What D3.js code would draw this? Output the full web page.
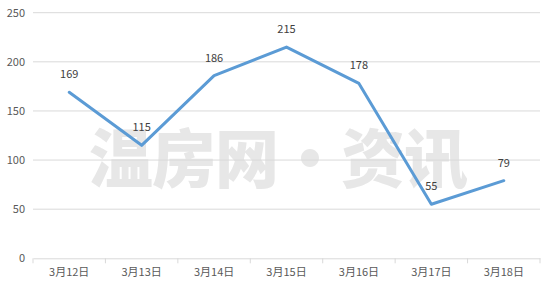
<!DOCTYPE html>
<html><head><meta charset="utf-8">
<script src="https://cdn.jsdelivr.net/npm/d3@7"></script>
<style>body{margin:0;background:#fff}svg{display:block}</style>
</head><body>
<svg id="c" width="550" height="289"></svg>
<script>
const categories = ["3月12日","3月13日","3月14日","3月15日","3月16日","3月17日","3月18日"];
const values = [169,115,186,215,178,55,79];
const yTicks = [0,50,100,150,200,250];
const watermark = "温房网·资讯";

const svg = d3.select("#c");
const m = {l:33, r:10, t:12.7, b:30.7};
const W = 550, H = 289;
const x = d3.scaleBand().domain(categories).range([m.l, W - m.r]);
const y = d3.scaleLinear().domain([0,250]).range([H - m.b, m.t]);
const font = "'Noto Sans CJK SC', 'Noto Sans', sans-serif";

// watermark
svg.append("text").attr("x", 278).attr("y", 182).attr("text-anchor","middle")
  .attr("font-family", font).attr("font-weight", "900").attr("font-size", 64)
  .attr("fill", "#e7e7e7").attr("letter-spacing", -1).text(watermark);

// gridlines
svg.append("g").selectAll("line").data(yTicks.filter(d=>d>0)).join("line")
  .attr("x1", m.l).attr("x2", W - m.r).attr("y1", d=>y(d)).attr("y2", d=>y(d))
  .attr("stroke", "#d9d9d9").attr("stroke-width", 1);

// y axis labels
const ya = svg.append("g").attr("transform", `translate(${m.l},0)`)
  .call(d3.axisLeft(y).tickValues(yTicks).tickSize(0).tickPadding(8));
ya.select(".domain").remove();
ya.selectAll("text").attr("font-family", font).attr("font-size", 11).attr("fill", "#595959");

// x axis
const xa = svg.append("g").attr("transform", `translate(0,${y(0)})`)
  .call(d3.axisBottom(x).tickSize(0).tickPadding(10));
xa.select(".domain").attr("stroke", "#d9d9d9");
xa.selectAll("text").attr("font-family", font).attr("font-size", 11).attr("fill", "#595959");
const bounds = categories.map(c => x(c)).concat([x(categories[categories.length-1]) + x.bandwidth()]);
svg.append("g").selectAll("line").data(bounds).join("line")
  .attr("x1", d=>d).attr("x2", d=>d).attr("y1", y(0)).attr("y2", y(0)+5)
  .attr("stroke", "#d9d9d9");

// line
const line = d3.line().x((d,i)=>x(categories[i]) + x.bandwidth()/2).y(d=>y(d));
svg.append("path").datum(values).attr("d", line).attr("fill","none")
  .attr("stroke", "#5b9bd5").attr("stroke-width", 3).attr("stroke-linejoin","round").attr("stroke-linecap","round");

// labels
svg.append("g").selectAll("text").data(values).join("text")
  .attr("x", (d,i)=>x(categories[i]) + x.bandwidth()/2)
  .attr("y", d=>y(d) - 14)
  .attr("text-anchor","middle").attr("font-family", font).attr("font-size", 11)
  .attr("fill", "#404040").text(d=>d);
</script>
</body></html>
